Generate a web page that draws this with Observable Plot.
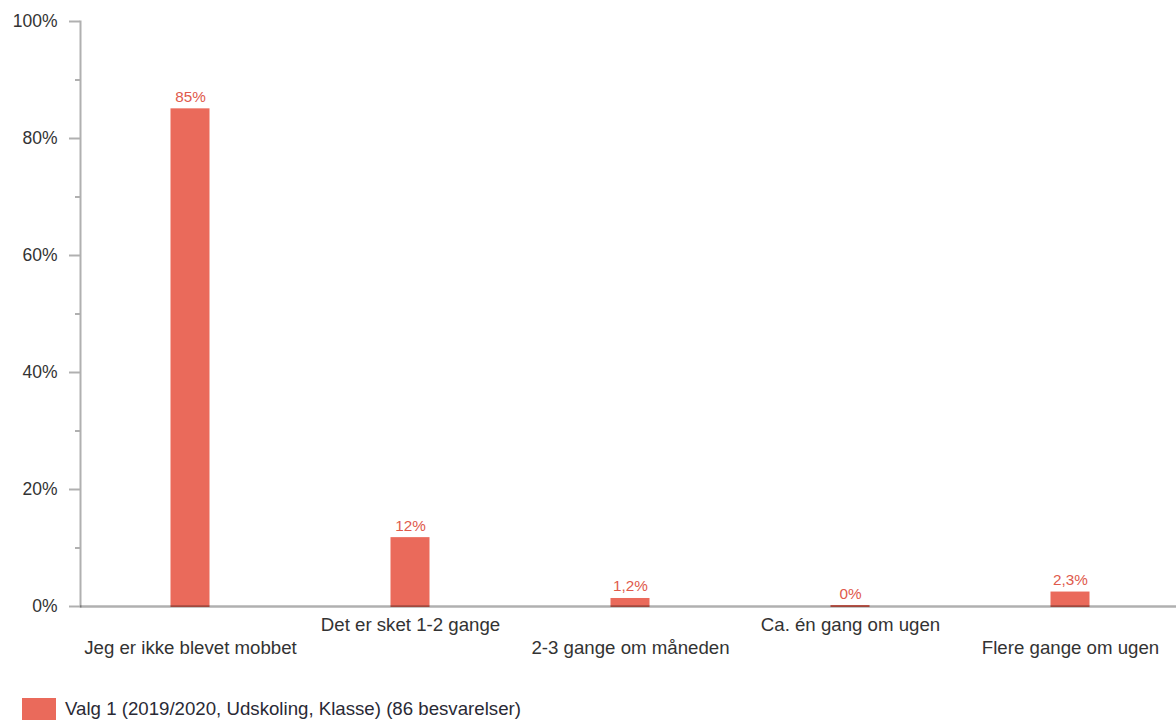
<!DOCTYPE html>
<html><head><meta charset="utf-8">
<script src="https://cdn.jsdelivr.net/npm/d3@7"></script>
<script src="https://cdn.jsdelivr.net/npm/@observablehq/plot@0.6"></script>
<style>
html,body{margin:0;padding:0;background:#fff;font-family:"Liberation Sans",Arial,sans-serif;}
#chart svg{display:block;}
#legend{display:flex;align-items:center;height:22px;margin-top:8px;padding-left:22px;font-size:18.67px;color:#2a2a35;}
#legend .sw{display:inline-block;width:34px;height:22px;background:#ea6a5b;margin-right:9px;}
</style></head><body>
<div id="chart"></div>
<div id="legend"><span class="sw"></span><span id="legend-label"></span></div>
<script>
const categories = ["Jeg er ikke blevet mobbet", "Det er sket 1-2 gange", "2-3 gange om måneden", "Ca. én gang om ugen", "Flere gange om ugen"];
const values = [84.9, 11.6, 1.2, 0, 2.3];
const valueLabels = ["85%", "12%", "1,2%", "0%", "2,3%"];
const yTicks = [0, 20, 40, 60, 80, 100];
const yMinorTicks = [10, 30, 50, 70, 90];
const seriesName = "Valg 1 (2019/2020, Udskoling, Klasse) (86 besvarelser)";

const data = categories.map((c, i) => ({category: c, value: values[i], label: valueLabels[i]}));
const upperLabels = categories.filter((_, i) => i % 2 === 1);
const lowerLabels = categories.filter((_, i) => i % 2 === 0);

const axisGray = "#b0b0b0";
const barColor = "#ea6a5b";

const chart = Plot.plot({
  width: 1176,
  height: 690,
  marginLeft: 80,
  marginRight: 0,
  marginTop: 21,
  marginBottom: 84,
  style: {fontFamily: "Liberation Sans, Arial, sans-serif", background: "#fff"},
  x: {domain: categories, range: [80, 1180], padding: 0},
  y: {domain: [0, 100]},
  marks: [
    Plot.frame({anchor: "left", stroke: axisGray, strokeWidth: 2}),
    Plot.axisY({ticks: yMinorTicks, tickSize: 5, tickFormat: () => "", stroke: axisGray, strokeWidth: 2, label: null}),
    Plot.axisY({ticks: yTicks, tickSize: 11, tickPadding: 12, tickFormat: d => d + "%", stroke: axisGray, strokeWidth: 2, fill: "#333", fontSize: 17.5, label: null}),
    Plot.barY(data, {x: "category", y: "value", fill: barColor, insetLeft: 90.5, insetRight: 90.5, insetTop: -1, insetBottom: -1}),
    Plot.ruleY([0], {stroke: "#000", strokeOpacity: 0.31, strokeWidth: 2.5}),
    Plot.text(data, {x: "category", y: "value", text: "label", lineAnchor: "bottom", dy: -8, fill: "#e05a4c", fontSize: 15.3}),
    Plot.axisX({ticks: upperLabels, tickSize: 0, tickPadding: 11, fill: "#333", fontSize: 18.67, label: null}),
    Plot.axisX({ticks: lowerLabels, tickSize: 0, tickPadding: 34, fill: "#333", fontSize: 18.67, label: null})
  ]
});
document.getElementById("chart").appendChild(chart);
document.getElementById("legend-label").textContent = seriesName;
</script>
</body></html>
